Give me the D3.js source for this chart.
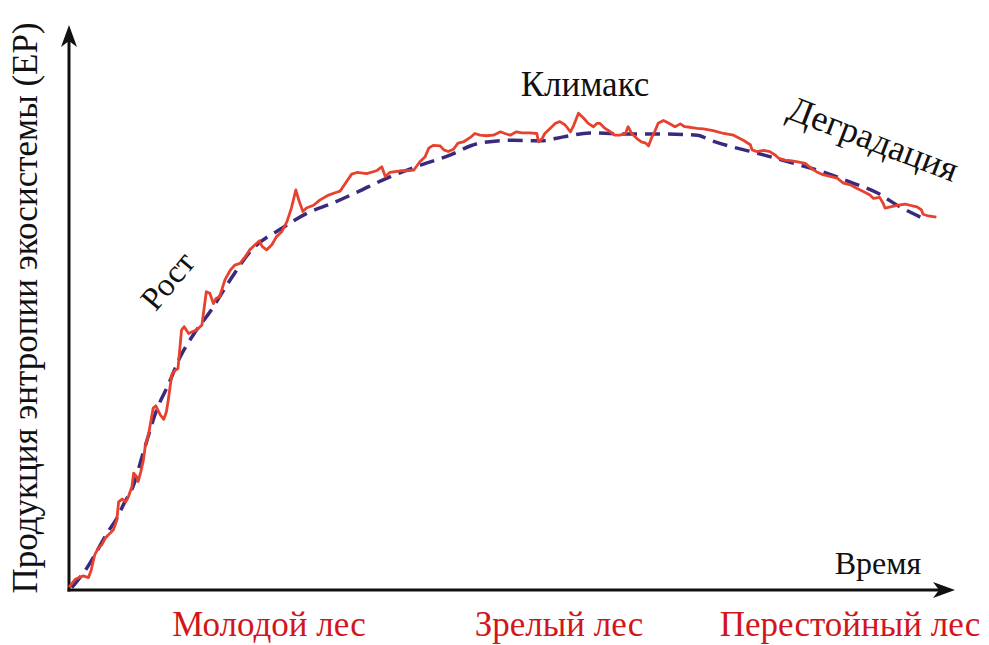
<!DOCTYPE html>
<html lang="ru"><head><meta charset="utf-8"><script src="https://cdn.jsdelivr.net/npm/d3@7"></script></head>
<body style="margin:0">
<svg id="viz" width="989" height="645"></svg>
<script>
// Observed entropy production (noisy red curve), time 0..100, EP 0..100
const observedTime = [0,0.7,1.6,2.2,2.5,2.9,3.3,3.7,4.1,4.4,5.0,5.4,5.6,6.0,6.4,6.7,7.1,7.3,7.6,7.8,8.1,8.4,8.6,9.0,9.5,9.8,10.3,10.7,11.0,11.2,11.6,12.0,12.3,12.7,13.0,13.5,13.9,14.4,15.0,15.5,15.9,16.3,16.6,17.0,17.6,18.2,18.7,19.3,19.9,20.4,21.0,21.5,21.8,22.3,22.9,23.4,24.0,24.6,25.1,25.6,26.0,26.4,26.8,27.6,28.3,29.3,30.2,30.6,31.2,31.9,32.5,33.6,34.7,35.3,35.7,36.2,37.4,38.1,38.9,39.6,40.2,40.6,41.1,41.9,42.3,42.8,43.4,43.9,44.5,45.3,45.8,46.4,47.1,47.9,48.7,49.2,49.8,50.5,51.1,52.0,52.8,53.0,53.4,53.7,54.3,54.9,55.4,56.0,56.6,56.9,57.5,58.1,58.6,59.2,59.6,59.9,60.5,61.1,61.6,62.2,62.8,63.1,63.5,64.1,64.6,65.1,65.4,65.8,66.1,66.5,67.1,67.6,68.4,69.0,69.5,70.1,70.9,71.6,72.7,73.9,75.0,76.1,76.9,77.1,77.6,78.4,79.1,79.7,80.1,80.8,81.4,82.1,83.1,83.8,84.4,85.1,85.9,86.7,87.4,88.2,88.9,89.7,90.4,90.8,91.5,91.9,92.1,92.7,93.6,94.4,94.9,95.7,96.2,96.4,97.0,97.9];
const observedEP = [0.5,1.9,2.5,2.2,3.5,6.2,7.4,8.0,9.2,9.7,10.6,12.4,15.6,16.1,15.6,16.5,18.3,20.7,20.1,19.2,20.9,23.0,25.4,27.7,32.2,32.6,31.0,30.2,31.6,33.6,38.1,38.9,39.2,46.0,46.6,45.4,45.7,46.0,46.9,52.8,52.5,50.7,51.6,51.9,54.9,56.6,57.5,57.8,59.0,60.2,61.1,61.8,60.8,60.2,61.1,62.5,63.4,65.2,67.6,70.8,68.7,67.0,67.6,68.1,69.0,69.9,70.4,70.6,72.0,73.6,73.9,73.7,74.2,74.9,73.2,73.9,74.2,74.2,74.3,75.8,76.7,78.2,78.7,78.6,77.9,77.6,78.0,79.1,79.3,80.1,80.8,80.5,80.4,80.5,81.1,80.8,80.5,81.1,80.9,80.9,80.8,79.3,79.9,80.8,81.7,82.6,82.9,82.3,81.1,82.0,84.4,83.5,82.6,82.0,82.6,82.6,81.7,81.1,80.5,80.5,80.8,82.0,80.8,79.9,79.3,79.1,78.6,80.2,81.1,82.6,83.1,82.7,82.0,82.5,82.0,81.9,81.7,81.6,81.3,80.8,80.5,79.6,78.8,77.9,77.6,77.8,77.6,77.0,76.4,76.1,76.0,75.8,75.5,74.6,74.0,73.5,73.2,72.9,72.0,71.7,71.1,70.5,69.9,69.3,69.5,68.4,67.6,67.8,68.1,68.3,68.1,67.8,67.3,66.5,66.2,66.0];

// Smoothed trend (dashed curve)
const trendTime = [0.3,2.1,3.3,4.4,5.4,6.3,7.2,8.4,9.9,11.2,12.5,14.0,15.9,18.2,20.4,24.2,26.9,29.8,32.5,35.9,38.8,42.7,46.4,50.1,53.2,55.8,58.8,63.3,67.0,70.9,72.4,74.9,77.7,81.4,85.1,88.2,91.2,93.8,96.1];
const trendEP   = [0.4,4.1,7.3,10.3,12.7,15.6,18.2,24.4,31.9,36.3,41.1,45.1,49.2,54.9,59.8,64.2,66.7,68.5,70.4,72.9,74.7,76.8,79.1,79.6,79.5,80.2,80.9,80.7,80.7,80.5,79.6,78.4,77.3,75.7,74.0,72.2,70.3,67.8,66.0];

const axisTitles = {y: "Продукция энтропии экосистемы (ЕР)", x: "Время"};
const phaseLabels = ["Рост", "Климакс", "Деградация"];
const stageLabels = ["Молодой лес", "Зрелый лес", "Перестойный лес"];

const svg = d3.select("#viz");
const x = d3.scaleLinear().domain([0, 100]).range([69, 955]);
const y = d3.scaleLinear().domain([0, 100]).range([590, 25]);

function arrow(tx, ty, dir) {
  const L = 22, W = 8, notch = 6;
  let pts;
  if (dir === "up") pts = [[tx,ty],[tx+W,ty+L],[tx,ty+L-notch],[tx-W,ty+L]];
  else pts = [[tx,ty],[tx-L,ty+W],[tx-L+notch,ty],[tx-L,ty-W]];
  svg.append("path").attr("d", "M" + pts.map(p=>p.join(",")).join("L") + "Z").attr("fill", "#111");
}
svg.append("line").attr("x1", x(0)).attr("y1", y(0)+1.5).attr("x2", x(0)).attr("y2", y(100)+10)
  .attr("stroke", "#111").attr("stroke-width", 3);
svg.append("line").attr("x1", x(0)-1.5).attr("y1", y(0)).attr("x2", x(100)-10).attr("y2", y(0))
  .attr("stroke", "#111").attr("stroke-width", 3);
arrow(x(0), y(100), "up");
arrow(x(100), y(0), "right");

const trendLine = d3.line().x((d,i)=>x(trendTime[i])).y(d=>y(d)).curve(d3.curveMonotoneX);
svg.append("path").attr("d", trendLine(trendEP)).attr("fill", "none")
  .attr("stroke", "#3a2a7e").attr("stroke-width", 3.5).attr("stroke-dasharray", "15,8");

const obsLine = d3.line().x((d,i)=>x(observedTime[i])).y(d=>y(d)).curve(d3.curveLinear);
svg.append("path").attr("d", obsLine(observedEP)).attr("fill", "none")
  .attr("stroke", "#e8412e").attr("stroke-width", 2.8).attr("stroke-linejoin", "round");

const SERIF = "Liberation Serif, Times New Roman, Tinos, DejaVu Serif, serif";
function label(t, o) {
  svg.append("text")
    .attr("transform", `translate(${o.x},${o.y}) rotate(${o.rot || 0})`)
    .attr("font-family", SERIF)
    .attr("font-size", o.size)
    .style("font-family", SERIF, "important")
    .style("font-size", o.size + "px", "important")
    .attr("text-anchor", "middle")
    .attr("fill", o.fill || "#111")
    .text(t);
}

label(axisTitles.y, {x: 37, y: 308, rot: -90, size: 35});
label(axisTitles.x, {x: 878, y: 574, size: 32});
label(phaseLabels[0], {x: 176, y: 288, rot: -50, size: 33});
label(phaseLabels[1], {x: 585, y: 96, size: 35});
label(phaseLabels[2], {x: 869, y: 150, rot: 21, size: 36});

const stageX = [269, 559, 850];
stageLabels.forEach((s,i)=>label(s, {x: stageX[i], y: 636, size: 35, fill: "#d3161c"}));
</script>
</body>
</html>
